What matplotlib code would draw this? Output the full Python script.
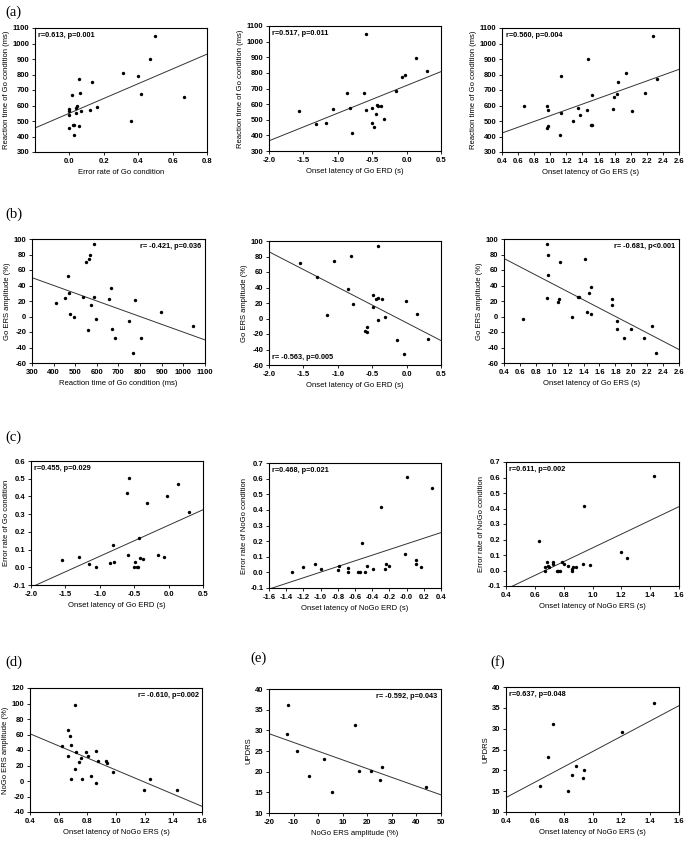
import numpy as np
import matplotlib.pyplot as plt
from matplotlib.ticker import FormatStrFormatter

# ---- data ----
# (a) left: error rate of Go vs reaction time
a1_x = [0.50, 0.47, 0.40, 0.415, 0.31, 0.133, 0.055, 0.063, 0.015, 0.0, 0.0, 0.0, 0.0,
        0.02, 0.025, 0.027, 0.04, 0.047, 0.038, 0.067, 0.057, 0.12, 0.163, 0.36, 0.667]
a1_y = [1046, 898, 790, 672, 810, 752, 773, 680, 668, 575, 567, 537, 452,
        474, 474, 410, 585, 594, 553, 564, 465, 573, 590, 498, 655]
# (a) middle: Go ERD latency vs reaction time
a2_x = [-0.59, 0.13, 0.296, -0.025, -0.06, -0.157, -0.862, -0.62, -1.567, -1.066, -0.823,
        -0.594, -0.507, -0.43, -0.42, -0.376, -0.444, -0.332, -0.497, -0.468, -1.314, -1.173, -0.794]
a2_y = [1047, 897, 812, 789, 776, 684, 671, 673, 554, 571, 573,
        565, 578, 595, 589, 589, 538, 503, 477, 454, 471, 477, 415]
# (a) right: Go ERS latency vs reaction time
a3_x = [2.28, 1.469, 1.13, 1.936, 1.845, 2.325, 1.52, 1.828, 1.786, 2.175, 0.67, 0.965, 0.975,
        1.348, 1.452, 1.782, 2.01, 1.13, 1.37, 1.285, 1.506, 1.523, 0.975, 0.965, 1.12]
a3_y = [1046, 898, 790, 810, 752, 773, 670, 672, 655, 680, 594, 594, 573,
        586, 569, 575, 562, 552, 537, 498, 474, 474, 468, 455, 412]

# (b) left: reaction time vs Go ERS amplitude
b1_x = [589, 566, 563, 551, 466, 472, 451, 409, 535, 585, 574, 666, 654,
        777, 895, 474, 495, 595, 748, 560, 669, 682, 803, 769, 1043]
b1_y = [93, 79.4, 73.8, 70.8, 52.8, 30.9, 24, 18, 25.8, 24.9, 14.2, 37.3, 22.7,
        21.9, 5.6, 3.5, 0, -2.6, -6, -18, -16.7, -28.3, -27.4, -47.2, -12]
# (b) middle: Go ERD latency vs Go ERS amplitude
b2_x = [-0.414, -1.553, -1.056, -0.808, -1.304, -0.846, -0.784, -1.163, -0.483, -0.448, -0.419,
        -0.356, -0.492, -0.01, 0.155, -0.41, -0.317, -0.57, -0.609, -0.58, -0.142, 0.31, -0.045]
b2_y = [93, 71.7, 74.7, 80.3, 53.6, 38.2, 18.5, 3.9, 30.9, 24.9, 26.6,
        25.3, 15, 22.7, 6.4, -2.1, 1.3, -11.6, -16.3, -18, -27.9, -27, -46.4]
# (b) right: Go ERS latency vs Go ERS amplitude
b3_x = [0.937, 0.95, 1.098, 1.423, 0.95, 0.941, 1.089, 1.085, 1.33, 1.339, 1.495, 1.474, 1.762,
        1.757, 1.44, 1.49, 1.254, 0.645, 1.826, 1.817, 1.994, 1.914, 2.155, 2.26, 2.31]
b3_y = [93, 79.4, 70.8, 74.2, 53.2, 24, 22.3, 18.9, 25.8, 24.9, 37.8, 30, 22.7,
        14.2, 6, 3.4, 0, -3, -6, -16.7, -16.3, -27.4, -28.3, -12, -47.2]

# (c) left: Go ERD latency vs error rate of Go
c1_x = [-0.581, -0.61, 0.133, -0.026, -0.32, 0.297, -0.427, -0.813, -1.556, -1.3, -1.16, -1.059,
        -0.856, -0.789, -0.59, -0.421, -0.367, -0.156, -0.06, -0.494, -0.504, -0.465, -0.441]
c1_y = [0.502, 0.418, 0.472, 0.40, 0.364, 0.313, 0.167, 0.123, 0.039, 0.058, 0.02, 0.003,
        0.022, 0.03, 0.067, 0.05, 0.047, 0.067, 0.058, 0.028, 0.003, 0.003, 0.003]
# (c) middle: NoGo ERD latency vs error rate of NoGo
c2_x = [0.003, 0.295, -0.30, -0.514, -0.016, 0.104, 0.104, 0.17, -1.328, -1.207, -1.063, -0.993,
        -0.783, -0.798, -0.678, -0.686, -0.569, -0.542, -0.487, -0.464, -0.394, -0.25, -0.238, -0.20]
c2_y = [0.61, 0.541, 0.417, 0.191, 0.12, 0.082, 0.056, 0.033, 0.0, 0.035, 0.052, 0.02,
        0.039, 0.017, 0.028, 0.0, 0.0, 0.0, 0.0, 0.039, 0.022, 0.02, 0.054, 0.041]
# (c) right: NoGo ERS latency vs error rate of NoGo
c3_x = [1.427, 0.941, 0.631, 1.198, 1.237, 0.682, 0.671, 0.694, 0.671, 0.724, 0.724, 0.786,
        0.804, 0.832, 0.751, 0.763, 0.774, 0.857, 0.86, 0.883, 0.934, 0.98, 0.70, 0.867]
c3_y = [0.612, 0.418, 0.191, 0.12, 0.081, 0.058, 0.023, 0.03, 0.0, 0.052, 0.041, 0.052,
        0.039, 0.03, 0.0, 0.0, 0.0, 0.011, 0.0, 0.02, 0.041, 0.034, 0.02, 0.023]

# (d): NoGo ERS latency vs NoGo ERS amplitude
d_x = [0.715, 0.666, 0.677, 0.687, 0.626, 0.666, 0.722, 0.79, 0.802, 0.757, 0.745, 0.715,
       0.86, 0.876, 0.93, 0.939, 0.978, 0.824, 0.683, 0.766, 0.86, 1.237, 1.197, 1.428]
d_y = [98.4, 66, 58.2, 46, 45.2, 32.6, 37, 37.8, 32.6, 30, 24.9, 15.4,
       38.9, 26, 26, 22.7, 11.9, 6.7, 3.2, 2.4, -2.4, 3.2, -11.9, -11]
# (e): NoGo ERS amplitude vs UPDRS
e_x = [-12.2, -12.6, -8.7, -3.65, 2.3, 5.7, 14.9, 16.6, 21.4, 25.2, 25.8, 44.0]
e_y = [36.2, 29.1, 25.1, 19.0, 23.1, 15.1, 31.2, 20.1, 20.1, 18.1, 21.1, 16.2]
# (f): NoGo ERS latency vs UPDRS
f_x = [1.429, 0.724, 0.694, 1.202, 0.883, 0.941, 0.86, 0.932, 0.636, 0.832]
f_y = [36.1, 31.1, 23.1, 29.1, 21.1, 20.0, 19.0, 18.2, 16.2, 15.1]

stats = ["r=0.613, p=0.001", "r=0.517, p=0.011", "r=0.560, p=0.004",
         "r= -0.421, p=0.036", "r= -0.563, p=0.005", "r= -0.681, p<0.001",
         "r=0.455, p=0.029", "r=0.468, p=0.021", "r=0.611, p=0.002",
         "r= -0.610, p=0.002", "r= -0.592, p=0.043", "r=0.637, p=0.048"]

plt.rcParams['font.family'] = ['Liberation Sans', 'DejaVu Sans']
plt.rcParams['font.weight'] = 'bold'
plt.rcParams['axes.unicode_minus'] = False

W, H = 685, 841
fig = plt.figure(figsize=(W / 100, H / 100), dpi=100)


def panel(box, x, y, xlim, xt, ylim, yt, xlabel, ylabel, txt, where, xfmt, yfmt):
    l, r, t, b = box
    ax = fig.add_axes([l / W, 1 - b / H, (r - l) / W, (b - t) / H])
    ax.scatter(x, y, s=6, color='black', zorder=3, linewidths=0)
    k, c = np.polyfit(x, y, 1)
    xx = np.array(xlim)
    ax.plot(xx, k * xx + c, color='#333333', lw=0.7)
    ax.set_xlim(xlim)
    ax.set_ylim(ylim)
    ax.set_xticks(xt)
    ax.set_yticks(yt)
    if xfmt:
        ax.xaxis.set_major_formatter(FormatStrFormatter(xfmt))
    if yfmt:
        ax.yaxis.set_major_formatter(FormatStrFormatter(yfmt))
    ax.tick_params(labelsize=5.5, length=2.5, width=0.6, pad=1.5, direction='out')
    for s in ax.spines.values():
        s.set_linewidth(0.8)
    ax.set_xlabel(xlabel, fontsize=5.5, labelpad=3)
    ax.set_ylabel(ylabel, fontsize=5.5, labelpad=2)
    if where == 'tl':
        ax.text(0.02, 0.97, txt, transform=ax.transAxes, fontsize=5.3, va='top', ha='left')
    elif where == 'tr':
        ax.text(0.98, 0.97, txt, transform=ax.transAxes, fontsize=5.3, va='top', ha='right')
    else:
        ax.text(0.02, 0.03, txt, transform=ax.transAxes, fontsize=5.3, va='bottom', ha='left')
    return ax


rt_ticks = np.arange(300, 1101, 100)
ers_ticks = np.arange(-60, 101, 20)
erd_ticks = np.arange(-2.0, 0.51, 0.5)
gers_ticks = np.arange(0.4, 2.61, 0.2)
nogo_ticks = np.arange(0.4, 1.61, 0.2)

panel((35, 207, 28, 152), a1_x, a1_y, (-0.2, 0.8), np.arange(0, 0.81, 0.2), (300, 1100), rt_ticks,
      "Error rate of Go condition", "Reaction time of Go condition (ms)", stats[0], 'tl', '%.1f', None)
panel((269, 441, 26, 151), a2_x, a2_y, (-2.0, 0.5), erd_ticks, (300, 1100), rt_ticks,
      "Onset latency of Go ERD (s)", "Reaction time of Go condition (ms)", stats[1], 'tl', '%.1f', None)
panel((502, 679, 28, 152), a3_x, a3_y, (0.4, 2.6), gers_ticks, (300, 1100), rt_ticks,
      "Onset latency of Go ERS (s)", "Reaction time of Go condition (ms)", stats[2], 'tl', '%.1f', None)

panel((32, 205, 239, 363), b1_x, b1_y, (300, 1100), rt_ticks, (-60, 100), ers_ticks,
      "Reaction time of Go condition (ms)", "Go ERS amplitude (%)", stats[3], 'tr', None, None)
panel((269, 441, 241, 365), b2_x, b2_y, (-2.0, 0.5), erd_ticks, (-60, 100), ers_ticks,
      "Onset latency of Go ERD (s)", "Go ERS amplitude (%)", stats[4], 'bl', '%.1f', None)
panel((504, 679, 239, 363), b3_x, b3_y, (0.4, 2.6), gers_ticks, (-60, 100), ers_ticks,
      "Onset latency of Go ERS (s)", "Go ERS amplitude (%)", stats[5], 'tr', '%.1f', None)

panel((31, 203, 461, 585), c1_x, c1_y, (-2.0, 0.5), erd_ticks, (-0.1, 0.6), np.arange(-0.1, 0.61, 0.1),
      "Onset latency of Go ERD (s)", "Error rate of Go condition", stats[6], 'tl', '%.1f', '%.1f')
panel((269, 441, 463, 588), c2_x, c2_y, (-1.6, 0.4), np.arange(-1.6, 0.41, 0.2), (-0.1, 0.7),
      np.arange(-0.1, 0.71, 0.1), "Onset latency of NoGo ERD (s)", "Error rate of NoGo condition",
      stats[7], 'tl', '%.1f', '%.1f')
panel((506, 679, 462, 586), c3_x, c3_y, (0.4, 1.6), nogo_ticks, (-0.1, 0.7), np.arange(-0.1, 0.71, 0.1),
      "Onset latency of NoGo ERS (s)", "Error rate of NoGo condition", stats[8], 'tl', '%.1f', '%.1f')

panel((30, 202, 688, 812), d_x, d_y, (0.4, 1.6), nogo_ticks, (-40, 120), np.arange(-40, 121, 20),
      "Onset latency of NoGo ERS (s)", "NoGo ERS amplitude (%)", stats[9], 'tr', '%.1f', None)
panel((269, 441, 689, 813), e_x, e_y, (-20, 50), np.arange(-20, 51, 10), (10, 40), np.arange(10, 41, 5),
      "NoGo ERS amplitude (%)", "UPDRS", stats[10], 'tr', None, None)
panel((506, 679, 687, 812), f_x, f_y, (0.4, 1.6), nogo_ticks, (10, 40), np.arange(10, 41, 5),
      "Onset latency of NoGo ERS (s)", "UPDRS", stats[11], 'tl', '%.1f', None)

# panel letters
for lab, px, py in [("(a)", 5, 12), ("(b)", 5, 214), ("(c)", 5, 437), ("(d)", 5, 662),
                    ("(e)", 250, 658), ("(f)", 490, 662)]:
    fig.text(px / W, 1 - py / H, lab, fontsize=10.5, family='Liberation Serif',
             weight='normal', va='center', ha='left')

fig.savefig('out.png', dpi=100)
